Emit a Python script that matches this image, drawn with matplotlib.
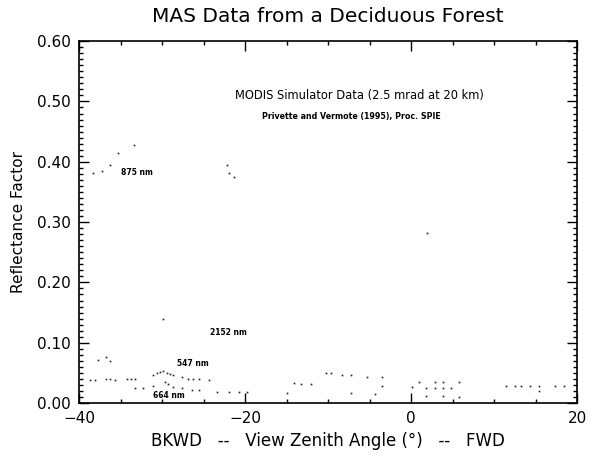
import matplotlib
matplotlib.use("Agg")
import matplotlib.pyplot as plt
from matplotlib.ticker import MultipleLocator

# view zenith angle (deg) / reflectance factor
ang_875 = [-38.3, -37.2, -36.3, -35.3, -33.4, -22.2, -21.9, -21.3, 1.9]
ref_875 = [0.382, 0.385, 0.394, 0.415, 0.427, 0.395, 0.382, 0.375, 0.282]

ang_2152 = [-37.7, -36.8, -36.3, -29.9]
ref_2152 = [0.071, 0.076, 0.070, 0.140]

ang_547 = [-38.7, -38.1, -36.8, -36.3, -35.7, -34.2, -33.8, -33.2, -31.1, -30.6,
           -30.2, -29.9, -29.4, -29.1, -28.7, -27.6, -26.9, -26.3, -25.5, -24.3,
           -14.1, -13.2, -12.1, -10.2, -9.6, -8.3, -7.2, -5.3, -3.5, -3.5,
           1.0, 2.9, 3.8, 5.8, 11.5, 12.5, 13.3, 14.3, 15.4, 17.4, 18.4]
ref_547 = [0.038, 0.038, 0.040, 0.040, 0.038, 0.040, 0.040, 0.040, 0.046, 0.050,
           0.051, 0.053, 0.050, 0.048, 0.046, 0.043, 0.040, 0.040, 0.040, 0.038,
           0.033, 0.031, 0.031, 0.050, 0.050, 0.046, 0.046, 0.043, 0.043, 0.028,
           0.035, 0.035, 0.035, 0.035, 0.028, 0.028, 0.028, 0.028, 0.028, 0.028, 0.028]

ang_664 = [-33.3, -32.3, -31.1, -29.7, -29.3, -28.7, -27.6, -26.4, -25.5, -23.4,
           -21.9, -20.7, -19.8, -15.0, -7.2, -4.4, 0.1, 1.8, 1.8, 2.9,
           3.8, 3.8, 4.8, 5.8, 15.4]
ref_664 = [0.025, 0.025, 0.028, 0.035, 0.031, 0.027, 0.025, 0.022, 0.022, 0.018,
           0.018, 0.018, 0.018, 0.017, 0.017, 0.015, 0.027, 0.025, 0.012, 0.025,
           0.025, 0.012, 0.025, 0.010, 0.020]

fig = plt.figure(figsize=(5.9, 4.57), dpi=100)
ax = fig.add_axes([0.134, 0.118, 0.844, 0.792])

for a, r in [(ang_875, ref_875), (ang_2152, ref_2152), (ang_547, ref_547), (ang_664, ref_664)]:
    ax.plot(a, r, linestyle='none', marker='s', markersize=1.2, color='#222222', markeredgewidth=0)

ax.set_xlim(-40, 20)
ax.set_ylim(0, 0.6)
ax.set_xticks([-40, -20, 0, 20])
ax.set_xticklabels(['\u221240', '\u221220', '0', '20'])
ax.set_yticks([0, 0.1, 0.2, 0.3, 0.4, 0.5, 0.6])
ax.set_yticklabels(['0.00', '0.10', '0.20', '0.30', '0.40', '0.50', '0.60'])
ax.xaxis.set_minor_locator(MultipleLocator(5))
ax.yaxis.set_minor_locator(MultipleLocator(0.01))
ax.tick_params(which='both', direction='in', top=True, right=True, width=1, color='black')
ax.tick_params(which='major', length=7, labelsize=11, pad=6)
ax.tick_params(which='minor', length=3)
for s in ax.spines.values():
    s.set_linewidth(1.2)

ax.set_title('MAS Data from a Deciduous Forest', fontsize=14.5, pad=14)
ax.set_xlabel('BKWD   --   View Zenith Angle (\u00b0)   --   FWD', fontsize=12, labelpad=4)
ax.set_ylabel('Reflectance Factor', fontsize=11, labelpad=8)

ax.text(-21.2, 0.51, 'MODIS Simulator Data (2.5 mrad at 20 km)', fontsize=8.3, va='center')
ax.text(-17.9, 0.475, 'Privette and Vermote (1995), Proc. SPIE', fontsize=5.7, va='center', fontweight='bold')
ax.text(-35.0, 0.382, '875 nm', fontsize=5.5, fontweight='bold', va='center')
ax.text(-24.2, 0.117, '2152 nm', fontsize=5.5, fontweight='bold', va='center')
ax.text(-28.2, 0.065, '547 nm', fontsize=5.5, fontweight='bold', va='center')
ax.text(-31.1, 0.013, '664 nm', fontsize=5.5, fontweight='bold', va='center')

fig.savefig('out.png', dpi=100)
